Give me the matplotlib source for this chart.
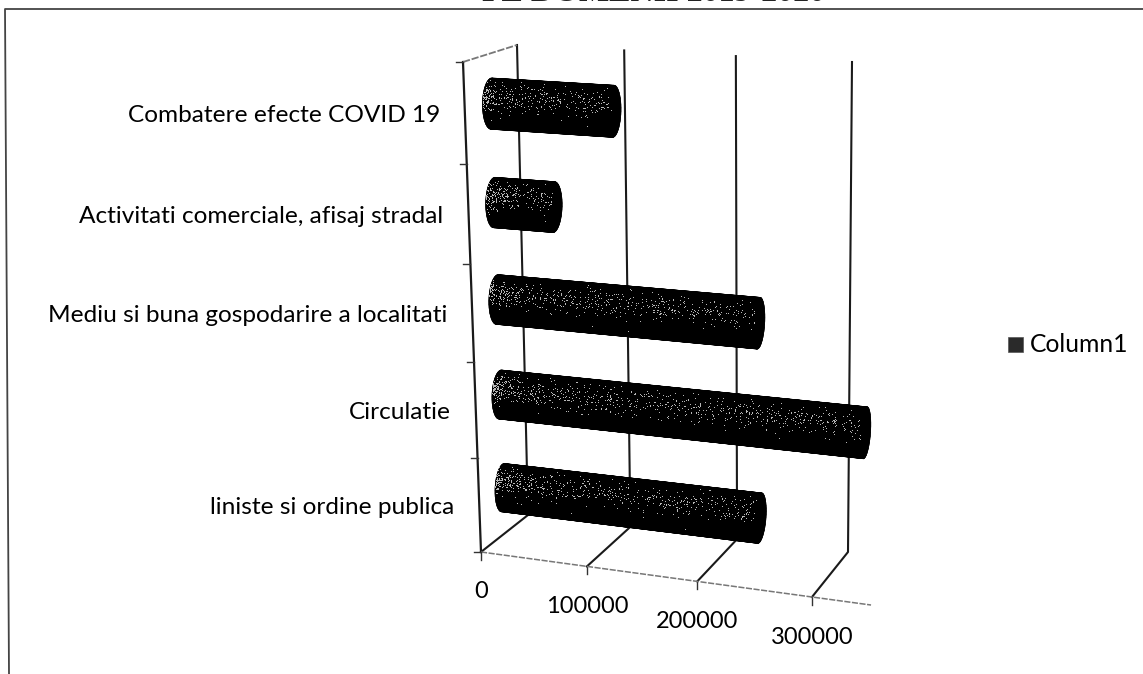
import numpy as np
import matplotlib
matplotlib.use('Agg')
import matplotlib.pyplot as plt
from matplotlib.patches import Polygon

categories = ['liniste si ordine publica', 'Circulatie',
              'Mediu si buna gospodarire a localitati',
              'Activitati comerciale, afisaj stradal',
              'Combatere efecte COVID 19']
values = [238000, 328000, 236000, 55000, 110000]
tick_values = [0, 100000, 200000, 300000]
tick_labels = ['0', '100000', '200000', '300000']
series_name = 'Column1'
title = 'PE DOMENII 2019-2020'

W, H = 1143, 674
VMAX = 300000
AXIS_END = 350000

# box corners in image pixels: (right?, top?, back?)
corners = {
    (0, 0, 0): (481, 552), (1, 0, 0): (812, 597),
    (0, 1, 0): (463, 62), (1, 1, 0): (824, 84),
    (0, 0, 1): (528, 515), (1, 0, 1): (848, 552),
    (0, 1, 1): (517, 45), (1, 1, 1): (852, 62),
}


def project(v, c, d):
    # v = value, c = category position 0..5, d = depth 0 front..1 back
    u = v / VMAX
    u = u * (1 + 0.064 * u) / 1.064
    w = c / 5
    w = w * (1 + 0.053 * w) / 1.053
    p = np.zeros(2)
    for (a, b, e), xy in corners.items():
        f = (u if a else 1 - u) * (w if b else 1 - w) * (d if e else 1 - d)
        p = p + f * np.array(xy)
    return p


def noise(x, y):
    # fixed hash, gives the grain of the scan
    s = np.sin(x * 12.9898 + y * 78.233) * 43758.5453
    return s - np.floor(s)


fig = plt.figure(figsize=(W / 100, H / 100), dpi=100)
ax = fig.add_axes([0, 0, 1, 1])
ax.set_xlim(0, W)
ax.set_ylim(H, 0)
ax.axis('off')

plt.rcParams['font.family'] = ['Lato', 'DejaVu Sans']

# scan frame and cropped title
ax.plot([9, 5, W], [H, 9, 9], color='#444444', lw=1.3, zorder=1)
ax.text(654, 1, title, family='Liberation Serif', weight='bold', fontsize=23,
        ha='center', va='baseline', color='#222222')

# walls, gridlines and floor
for v in tick_values:
    pts = [project(v, 0, 0), project(v, 0, 1), project(v, 5, 1)]
    ax.plot(*zip(*pts), color='#1a1a1a', lw=1.5, zorder=2)
    f = project(v, 0, 0)
    ax.plot([f[0], f[0]], [f[1], f[1] + 8], color='#333333', lw=1, zorder=2)

ax.plot(*zip(project(0, 0, 0), project(0, 5, 0)), color='#1a1a1a', lw=1.6, zorder=2)
ax.plot(*zip(project(0, 5, 0), project(0, 5, 1)), color='#777777', lw=1.3, ls=(0, (4, 1)), zorder=2)
ax.plot(*zip(project(0, 0, 0), project(AXIS_END, 0, 0)), color='#777777', lw=1.1, ls=(0, (4, 1)), zorder=2)
for c in range(6):
    p = project(0, c, 0)
    ax.plot([p[0] - 7, p[0]], [p[1], p[1]], color='#333333', lw=1, zorder=2)

# cylinders
grain_y, grain_x = np.mgrid[0:H, 0:W]
grain_x = grain_x.astype(float)
grain_y = grain_y.astype(float)
grain = noise(grain_x, grain_y)
alpha = np.zeros((H, W))
angles = np.linspace(0, 2 * np.pi, 49)
for i, val in enumerate(values):
    c0 = i + 0.5
    d0 = 0.5
    ry, rd = 0.255, 0.17
    start = np.array([project(0, c0 + ry * np.cos(t), d0 + rd * np.sin(t)) for t in angles])
    end = np.array([project(val, c0 + ry * np.cos(t), d0 + rd * np.sin(t)) for t in angles])
    for j in range(len(angles) - 1):
        quad = [start[j], start[j + 1], end[j + 1], end[j]]
        ax.add_patch(Polygon(quad, closed=True, fc='black', ec='black', lw=0.4, zorder=3))
    ax.add_patch(Polygon(start, closed=True, fc='black', ec='black', lw=0.4, zorder=3))
    ax.add_patch(Polygon(end, closed=True, fc='black', ec='black', lw=0.4, zorder=3))

    # speckle on the upper half of the bar, stronger at the left end
    a = project(0, c0, d0)
    b = project(val, c0, d0)
    half = (start[:, 1].max() - start[:, 1].min()) / 2
    centre = a[1] + (b[1] - a[1]) * (grain_x - a[0]) / (b[0] - a[0])
    t = (grain_y - centre) / half
    left = start[:, 0].min()
    right = end[:, 0].max()
    cap = left + 8 * (1 - np.sqrt(np.clip(1 - t ** 2, 0, 1)))
    inside = (np.abs(t) < 0.92) & (grain_x > cap) & (grain_x < right - 10)
    along = 0.10 + 0.42 * np.exp(-np.clip(grain_x - left, 0, None) / 14.0)
    across = np.exp(-((t + 0.28) / 0.42) ** 2)
    alpha[inside & (grain < along * across)] = 1.0

rgba = np.zeros((H, W, 4))
rgba[..., :3] = 0.72
rgba[..., 3] = alpha
ax.imshow(rgba, extent=(0, W, H, 0), interpolation='nearest', zorder=4, aspect='auto')
ax.set_xlim(0, W)
ax.set_ylim(H, 0)

# labels
for i, name in enumerate(categories):
    p = project(0, i + 0.5, 0)
    ax.text(p[0] - 25, p[1] + 2.5, name, fontsize=17.6, ha='right', va='center', color='black')
for v, label in zip(tick_values, tick_labels):
    p = project(v, 0, 0)
    ax.text(p[0], p[1] + 40, label, fontsize=17, ha='center', va='center', color='black')

# legend
ax.add_patch(Polygon([(1008, 337), (1023, 337), (1023, 352), (1008, 352)], closed=True,
                     fc='#2a2a2a', ec='#555555', lw=0.5, zorder=3))
ax.text(1030, 344, series_name, fontsize=17.7, ha='left', va='center', color='black')

fig.savefig('out.png', dpi=100)
